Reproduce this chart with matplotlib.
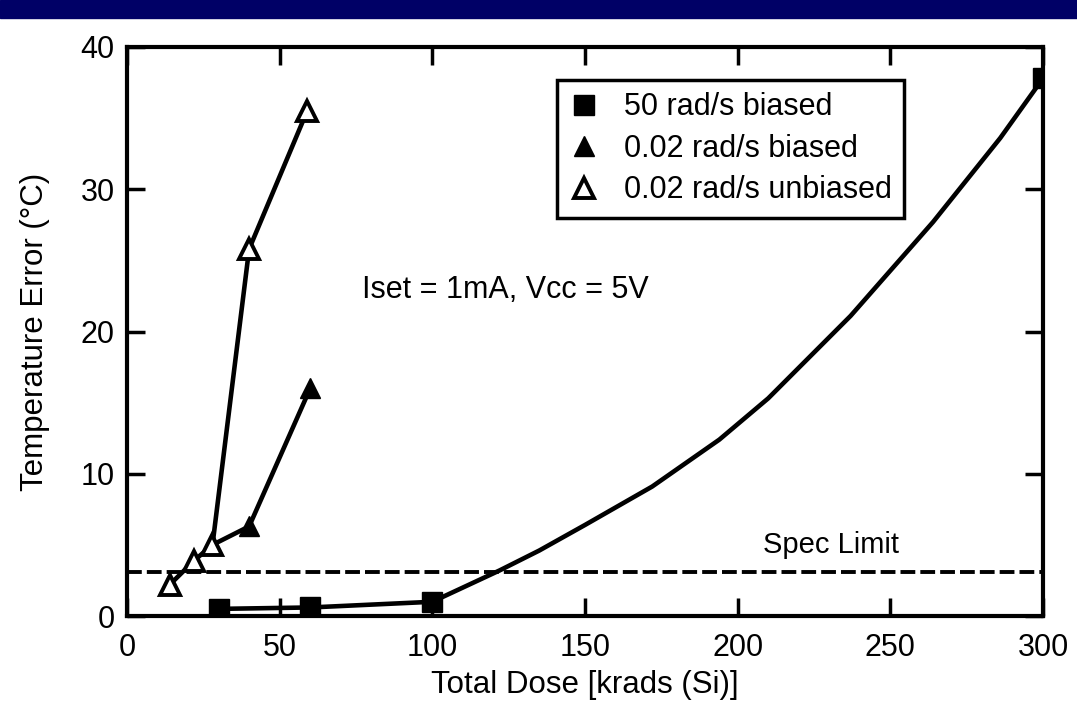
import matplotlib.pyplot as plt
from matplotlib.patches import Rectangle

plt.rcParams['font.family'] = ['Liberation Sans', 'DejaVu Sans']

# 50 rad/s biased: measured points and the fitted curve drawn through them
dose_50 = [30, 60, 100, 300]
err_50 = [0.5, 0.6, 1.0, 37.8]
curve_dose = [30, 60, 100, 110, 122, 135, 150, 172, 194, 210, 237, 264, 286, 300]
curve_err = [0.5, 0.6, 1.0, 2.0, 3.2, 4.6, 6.4, 9.1, 12.4, 15.3, 21.1, 27.7, 33.6, 37.8]

# 0.02 rad/s biased
dose_b = [28, 40, 60]
err_b = [5.0, 6.3, 16.0]

# 0.02 rad/s unbiased
dose_u = [14, 22, 28, 40, 59]
err_u = [2.2, 3.9, 5.0, 25.8, 35.5]

spec_limit = 3.1

fig = plt.figure(figsize=(10.77, 7.02), dpi=100)
# navy bar at top of the slide
fig.patches.append(Rectangle((0, 1 - 18 / 702), 1, 18 / 702, transform=fig.transFigure,
                             color='#000066', zorder=0))
ax = fig.add_axes([127 / 1077, 1 - 616 / 702, 916 / 1077, 569 / 702])

lw = 3.3
ax.axhline(spec_limit, color='black', lw=2.8, ls=(0, (3.8, 1.3)), zorder=1)

ax.plot(curve_dose, curve_err, color='black', lw=lw, zorder=2)
ax.plot(dose_50, err_50, ls='none', marker='s', ms=14, color='black', zorder=3,
        label='50 rad/s biased')
ax.plot(dose_b, err_b, color='black', lw=lw, marker='^', ms=15, zorder=3,
        label='0.02 rad/s biased')
ax.plot(dose_u, err_u, color='black', lw=lw, marker='^', ms=15, mfc='white',
        mec='black', mew=2.8, zorder=4, label='0.02 rad/s unbiased')

ax.text(77, 22.9, 'Iset = 1mA, Vcc = 5V', fontsize=22, va='center')
ax.text(230.5, 5.0, 'Spec Limit', fontsize=21, ha='center', va='center')

ax.set_xlim(0, 300)
ax.set_ylim(0, 40)
ax.set_xticks([0, 50, 100, 150, 200, 250, 300])
ax.set_yticks([0, 10, 20, 30, 40])
ax.tick_params(direction='in', length=13, width=2.5, labelsize=22,
               top=True, right=True)
ax.tick_params(axis='x', pad=12)
ax.tick_params(axis='y', pad=9)
for s in ax.spines.values():
    s.set_linewidth(3)

ax.set_xlabel('Total Dose [krads (Si)]', fontsize=22.5, labelpad=5)
ax.set_ylabel('Temperature Error (°C)', fontsize=22.5, labelpad=22)

leg = ax.legend(loc='upper left', bbox_to_anchor=(0.469, 0.942), fontsize=22,
                frameon=True, fancybox=False, framealpha=1, handlelength=1.0,
                handletextpad=0.8, borderpad=0.4, labelspacing=0.38, borderaxespad=0)
leg.get_frame().set_edgecolor('black')
leg.get_frame().set_linewidth(2.5)
for h in leg.legend_handles:
    h.set_linestyle('none')

fig.savefig('out.png', dpi=100)
